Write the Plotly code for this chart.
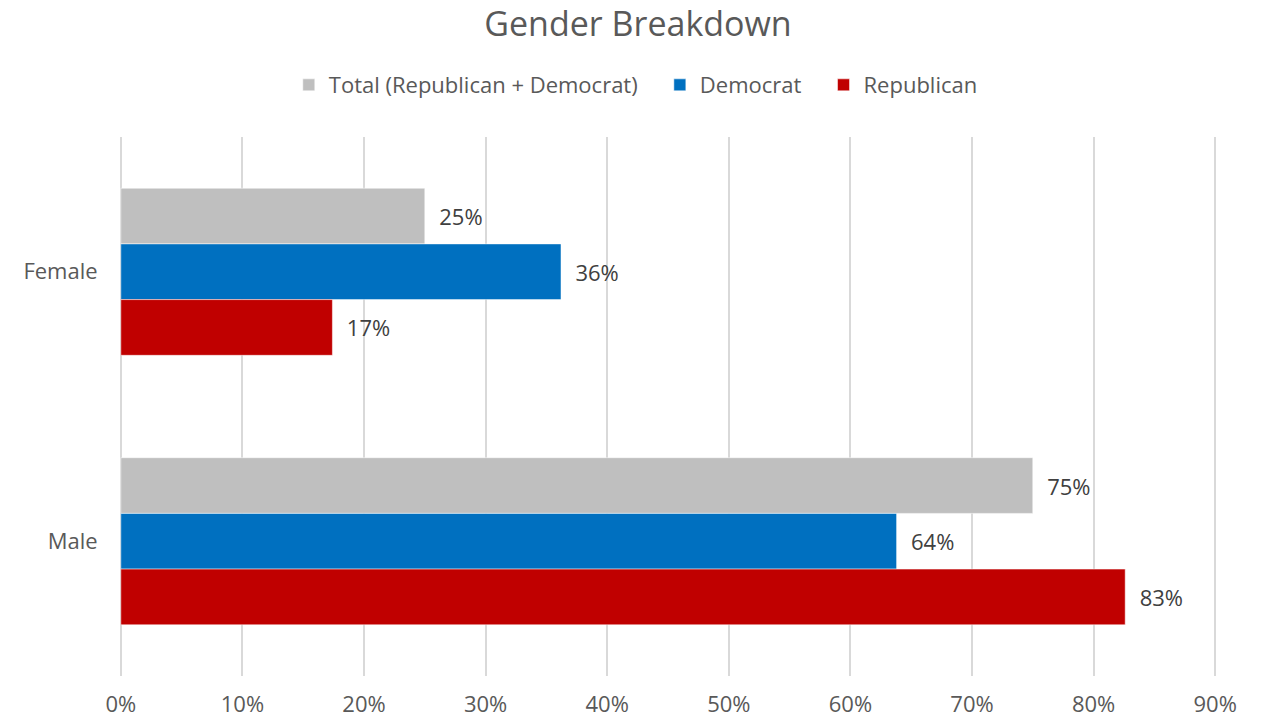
import plotly.graph_objects as go

categories = ["Female", "Male"]
total_vals = [25.0, 75.0]
dem_vals = [36.2, 63.8]
rep_vals = [17.4, 82.6]
tick_vals = [0, 10, 20, 30, 40, 50, 60, 70, 80, 90]
tick_text = [f"{v}%" for v in tick_vals]

series = [
    ("Total (Republican + Democrat)", total_vals, "#BFBFBF"),
    ("Democrat", dem_vals, "#0070C0"),
    ("Republican", rep_vals, "#C00000"),
]

font_family = "Open Sans, Liberation Sans, sans-serif"
grey = "#595959"
pad = "\u00a0\u00a0\u00a0"

fig = go.Figure()
for name, vals, color in series:
    fig.add_trace(go.Bar(
        y=categories, x=vals, name=name + pad, orientation="h",
        marker=dict(color=color, line=dict(color="white", width=0.5)),
        text=[f"  {round(v):d}%" for v in vals],
        textposition="outside", cliponaxis=False,
        textfont=dict(size=22, color="#404040", family=font_family),
    ))

fig.update_layout(
    width=1260, height=710,
    barmode="group", bargap=0.38, bargroupgap=0,
    paper_bgcolor="white", plot_bgcolor="white",
    margin=dict(l=111, r=51, t=129, b=42, autoexpand=False),
    title=dict(text="Gender Breakdown", x=0.5, xanchor="center", y=0.977, yanchor="middle",
               font=dict(size=34, color=grey, family=font_family)),
    legend=dict(orientation="h", x=0.505, xanchor="center", xref="container",
                y=0.8915, yanchor="middle", yref="container",
                font=dict(size=22, color=grey, family=font_family), traceorder="normal",
                itemwidth=30),
    font=dict(family=font_family, color=grey),
    showlegend=True,
)
fig.update_xaxes(range=[-0.15, 90.15], tickvals=tick_vals, ticktext=tick_text,
                 showgrid=True, gridcolor="#D9D9D9", gridwidth=1.5,
                 zeroline=False, showline=False, automargin=False,
                 ticks="outside", ticklen=9, tickcolor="rgba(0,0,0,0)",
                 tickfont=dict(size=22, color=grey, family=font_family))
fig.update_yaxes(autorange="reversed", showgrid=False, showline=False, automargin=False,
                 ticks="outside", ticklen=16, tickcolor="rgba(0,0,0,0)",
                 tickfont=dict(size=22, color=grey, family=font_family))

fig.write_html("out.html")
